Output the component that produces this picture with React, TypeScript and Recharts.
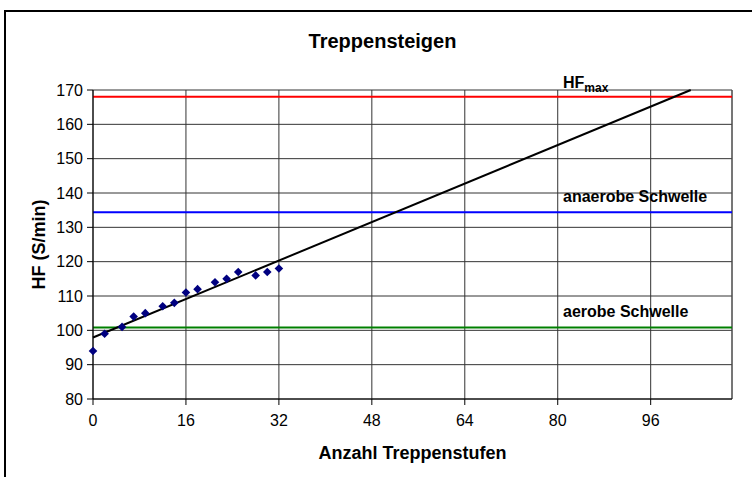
import React from 'react';
import {
  ScatterChart,
  Scatter,
  XAxis,
  YAxis,
  CartesianGrid,
  ReferenceLine,
} from 'recharts';

// ---- data ----
const steps = [0, 2, 5, 7, 9, 12, 14, 16, 18, 21, 23, 25, 28, 30, 32];
const heartRate = [94, 99, 101, 104, 105, 107, 108, 111, 112, 114, 115, 117, 116, 117, 118];

const xTicks = [0, 16, 32, 48, 64, 80, 96];
const yTicks = [80, 90, 100, 110, 120, 130, 140, 150, 160, 170];
const xDomain = [0, 110];
const yDomain = [80, 170];

const hfMax = 168;
const anaerobicThreshold = 134.4;
const aerobicThreshold = 100.8;

const trendX = [0, 102.9];
const trendY = [97.9, 170];

const titleText = 'Treppensteigen';
const xTitle = 'Anzahl Treppenstufen';
const yTitle = 'HF (S/min)';
const anaerobicLabel = 'anaerobe Schwelle';
const aerobicLabel = 'aerobe Schwelle';

const points = steps.map((x, i) => ({ x, y: heartRate[i] }));

const FONT = '"Liberation Sans", Arial, sans-serif';

const Diamond = (props: any) => {
  const { cx, cy } = props;
  if (cx == null || cy == null) return <g />;
  const r = 4.3;
  return (
    <polygon
      points={`${cx},${cy - r} ${cx + r},${cy} ${cx},${cy + r} ${cx - r},${cy}`}
      fill="#000080"
    />
  );
};

const makeLineLabel = (text: string, up: number, withSub?: string) => (props: any) => {
  const vb = props.viewBox || {};
  const x = vb.x + vb.width - 169;
  const y = vb.y - up;
  return (
    <text x={x} y={y} fontFamily={FONT} fontWeight="bold" fontSize={16} fill="#000">
      <tspan>{text}</tspan>
      {withSub ? (
        <tspan fontSize={12} dy={4}>
          {withSub}
        </tspan>
      ) : null}
    </text>
  );
};

export default function App() {
  return (
    <div
      style={{
        position: 'absolute',
        left: 0,
        top: 0,
        width: 752,
        height: 477,
        overflow: 'hidden',
        background: '#fff',
      }}
    >
      <div
        style={{
          position: 'absolute',
          left: 4,
          top: 10,
          width: 780,
          height: 500,
          border: '2px solid #000',
          boxSizing: 'border-box',
        }}
      />
      <div
        style={{
          position: 'absolute',
          left: 0,
          top: 31,
          width: 765,
          textAlign: 'center',
          fontFamily: FONT,
          fontWeight: 'bold',
          fontSize: 20,
          lineHeight: '20px',
          color: '#000',
        }}
      >
        {titleText}
      </div>
      <div style={{ position: 'absolute', left: 0, top: 0 }}>
        <ScatterChart
          width={752}
          height={477}
          margin={{ top: 90, right: 20, bottom: 0, left: 8 }}
        >
          <CartesianGrid stroke="#333" strokeWidth={1} />
          <XAxis
            type="number"
            dataKey="x"
            domain={xDomain}
            ticks={xTicks}
            height={78}
            tickSize={6}
            tickMargin={10}
            axisLine={{ stroke: '#000' }}
            tickLine={{ stroke: '#000' }}
            tick={{ fill: '#000', fontSize: 16, fontFamily: FONT }}
            label={{
              value: xTitle,
              position: 'insideBottom',
              offset: 18,
              style: {
                fontFamily: FONT,
                fontWeight: 'bold',
                fontSize: 18,
                fill: '#000',
              },
            }}
          />
          <YAxis
            type="number"
            dataKey="y"
            domain={yDomain}
            ticks={yTicks}
            width={85}
            tickSize={6}
            tickMargin={4}
            axisLine={{ stroke: '#000' }}
            tickLine={{ stroke: '#000' }}
            tick={{ fill: '#000', fontSize: 16, fontFamily: FONT }}
            label={{
              value: yTitle,
              angle: -90,
              position: 'insideLeft',
              offset: 31,
              style: {
                textAnchor: 'middle',
                fontFamily: FONT,
                fontWeight: 'bold',
                fontSize: 18,
                fill: '#000',
              },
            }}
          />
          <ReferenceLine x={xDomain[1]} stroke="#555" strokeWidth={1} />
          <ReferenceLine
            y={aerobicThreshold}
            stroke="#008000"
            strokeWidth={2}
            label={{ content: makeLineLabel(aerobicLabel, 10.5) }}
          />
          <ReferenceLine
            y={anaerobicThreshold}
            stroke="#0000FF"
            strokeWidth={2}
            label={{ content: makeLineLabel(anaerobicLabel, 10) }}
          />
          <ReferenceLine
            y={hfMax}
            stroke="#FF0000"
            strokeWidth={2}
            label={{ content: makeLineLabel('HF', 9, 'max') }}
          />
          <ReferenceLine
            segment={[
              { x: trendX[0], y: trendY[0] },
              { x: trendX[1], y: trendY[1] },
            ]}
            stroke="#000"
            strokeWidth={2}
          />
          <Scatter data={points} shape={Diamond} isAnimationActive={false} />
        </ScatterChart>
      </div>
    </div>
  );
}
